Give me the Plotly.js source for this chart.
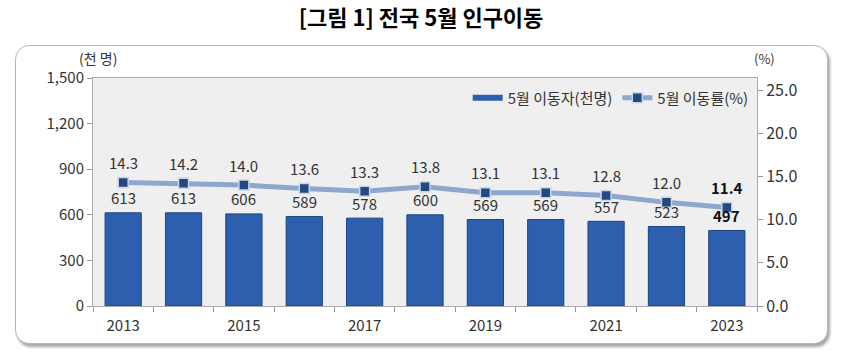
<!DOCTYPE html>
<html><head><meta charset="utf-8">
<script src="https://cdn.plot.ly/plotly-3.0.1.min.js"></script>
<style>
html,body{margin:0;padding:0;background:#fff;}
#wrap{position:relative;width:842px;height:358px;}
#box{position:absolute;left:15px;top:45px;width:811px;height:297px;border:1px solid #b8b8b8;border-radius:14px;box-shadow:2px 3px 3px rgba(0,0,0,0.35);background:#fff;}
#chart{position:absolute;left:0;top:0;width:842px;height:358px;}
</style></head>
<body><div id="wrap"><div id="box"></div><div id="chart"></div></div>
<script>
const years = ['2013','2014','2015','2016','2017','2018','2019','2020','2021','2022','2023'];
const movers = [613,613,606,589,578,600,569,569,557,523,497];
const rates = [14.3,14.2,14.0,13.6,13.3,13.8,13.1,13.1,12.8,12.0,11.4];
const moversName = '5월 이동자(천명)';
const ratesName = '5월 이동률(%)';
const titleText = '[그림 1] 전국 5월 인구이동';

const font = '"Noto Sans CJK KR", "Noto Sans", sans-serif';
const last = years.length - 1;
const barColor = '#2d5fae';

const bars = {
  type:'bar', x:years, y:movers, name:moversName, showlegend:false,
  marker:{color:barColor, line:{color:'#1d4585', width:1}},
  width:0.6, hoverinfo:'skip'
};
const barLegend = {
  type:'scatter', mode:'lines', x:[null], y:[null], name:moversName,
  line:{color:barColor, width:6}, hoverinfo:'skip'
};
const line = {
  type:'scatter', mode:'lines+markers', x:years, y:rates, name:ratesName, yaxis:'y2',
  line:{color:'#8ea7cc', width:5},
  marker:{symbol:'square', size:10, color:'#24487f', line:{color:'#c8d6ec', width:1.5}},
  hoverinfo:'skip'
};

const annotations = [];
years.forEach((yr,i)=>{
  const b = i===last;
  annotations.push({x:i, y:movers[i], xref:'x', yref:'y', showarrow:false, yshift:15,
    text: b ? '<b>'+movers[i]+'</b>' : String(movers[i]),
    font:{family:font, size:15, color: b?'#111':'#333'}});
  annotations.push({x:i, y:rates[i], xref:'x', yref:'y2', showarrow:false, yshift:20,
    text: b ? '<b>'+rates[i].toFixed(1)+'</b>' : rates[i].toFixed(1),
    font:{family:font, size:15, color: b?'#111':'#333'}});
});
annotations.push({text:'(천 명)', xref:'paper', yref:'paper', x:-0.024, y:1.0, yshift:8, xanchor:'left', yanchor:'bottom', showarrow:false, font:{family:font, size:14, color:'#333'}});
annotations.push({text:'(%)', xref:'paper', yref:'paper', x:0.993, y:1.0, yshift:8, xanchor:'left', yanchor:'bottom', showarrow:false, font:{family:font, size:13, color:'#333'}});

const layout = {
  width:842, height:358,
  margin:{l:93, r:85, t:78, b:52},
  paper_bgcolor:'rgba(0,0,0,0)', plot_bgcolor:'#efefef',
  title:{text:'<b>'+titleText+'</b>', x:0.5, xanchor:'center', y:0.95, yanchor:'middle', font:{family:font, size:22, color:'#000'}},
  font:{family:font, color:'#333'},
  showlegend:true,
  legend:{orientation:'h', x:0.995, xanchor:'right', y:0.985, yanchor:'top', bgcolor:'rgba(0,0,0,0)', font:{family:font, size:15, color:'#333'}, traceorder:'normal', itemwidth:30},
  bargap:0.4,
  xaxis:{type:'category', range:[-0.5, years.length-0.5], autorange:false,
    tickvals:years, ticktext:years.map((y,i)=> i%2===0 ? y : ''),
    tickson:'boundaries', ticks:'outside', ticklen:5, tickcolor:'#999', ticklabelstandoff:6,
    showline:true, linecolor:'#aaa', mirror:true, showgrid:false,
    tickfont:{family:font, size:15, color:'#333'}},
  yaxis:{range:[0,1500], autorange:false, dtick:300, tickformat:',', ticks:'outside', ticklen:5, tickcolor:'#999',
    showgrid:false, showline:true, linecolor:'#aaa', mirror:true, zeroline:false,
    tickfont:{family:font, size:15, color:'#333'}},
  yaxis2:{overlaying:'y', side:'right', range:[0,26.4], autorange:false, tickvals:[0,5,10,15,20,25], tickformat:'.1f',
    ticks:'outside', ticklen:5, tickcolor:'#999', showgrid:false, showline:false, zeroline:false,
    tickfont:{family:font, size:16, color:'#333'}},
  annotations:annotations
};
Plotly.newPlot('chart',[bars,barLegend,line],layout,{displayModeBar:false, staticPlot:true});
</script></body></html>
